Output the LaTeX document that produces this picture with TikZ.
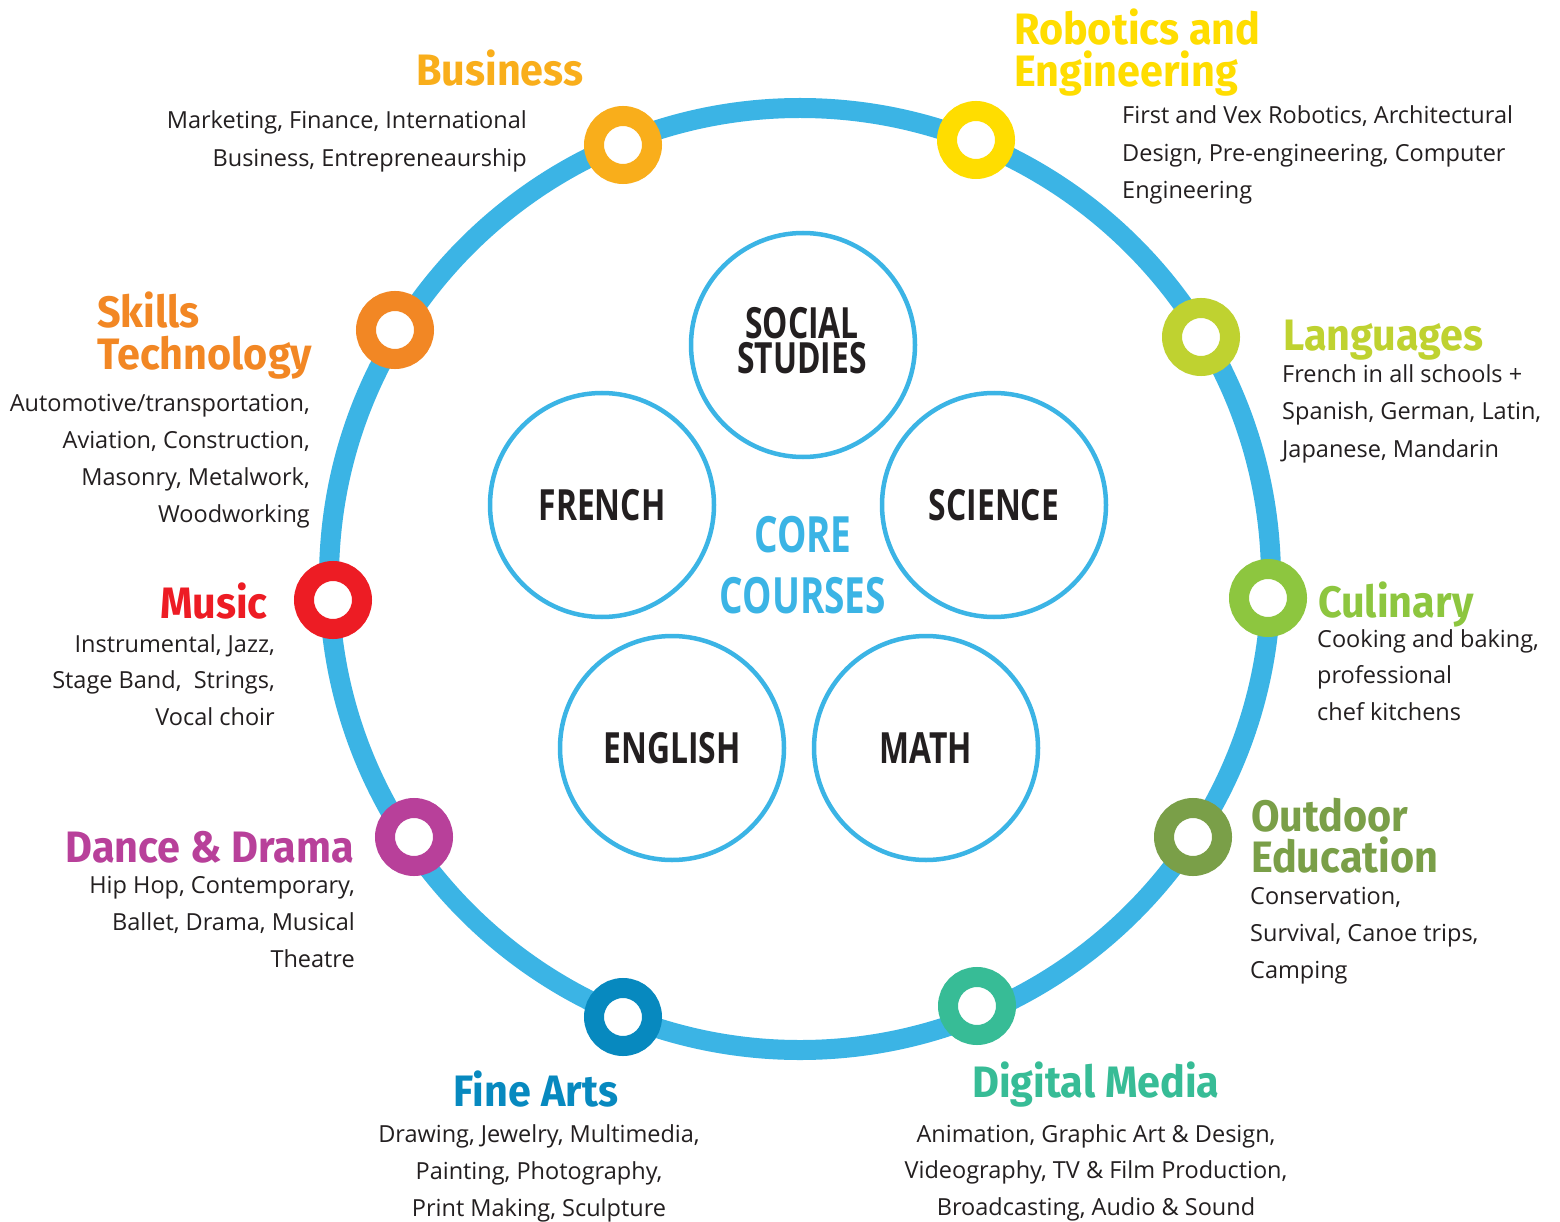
\documentclass[tikz,border=0pt]{standalone}
\usepackage{fontspec}
\setmainfont{Open Sans}
\newfontfamily\headfont[FakeStretch=0.94]{Fira Sans}
\newfontfamily\corefont[FakeStretch=0.74]{Open Sans}
\definecolor{ringblue}{HTML}{3BB4E5}
\definecolor{txt}{HTML}{231F20}
\definecolor{cbusiness}{HTML}{F9AE1B}
\definecolor{crobotics}{HTML}{FFDD00}
\definecolor{cskills}{HTML}{F28724}
\definecolor{clang}{HTML}{BFD230}
\definecolor{cmusic}{HTML}{ED1C24}
\definecolor{ccul}{HTML}{8DC63F}
\definecolor{cdance}{HTML}{B8409A}
\definecolor{coutdoor}{HTML}{7A9F48}
\definecolor{cfine}{HTML}{0789BF}
\definecolor{cdigital}{HTML}{37BC96}
\newcommand\linesR[2]{\vtop{\baselineskip=#1pt\lineskiplimit=-100pt\halign{\hfil##\cr#2\crcr}}}
\newcommand\linesL[2]{\vtop{\baselineskip=#1pt\lineskiplimit=-100pt\halign{##\hfil\cr#2\crcr}}}
\newcommand\linesC[2]{\vtop{\baselineskip=#1pt\lineskiplimit=-100pt\halign{\hfil##\hfil\cr#2\crcr}}}
\tikzset{
  body/.style={font={\fontsize{23.5}{37.5}\selectfont}, text=txt, inner sep=0pt},
  head/.style={font={\headfont\bfseries\fontsize{44}{42}\selectfont}, text=#1, inner sep=0pt},
  hub/.style={circle, draw=#1, line width=20pt, minimum size=58pt, inner sep=0pt, fill=white},
  corecircle/.style={circle, draw=ringblue, line width=4.5pt, minimum size=224pt, inner sep=0pt,
    font={\corefont\bfseries\fontsize{43}{35}\selectfont}, text=txt},
  coretext/.style={inner sep=0pt, anchor=base, font={\corefont\bfseries\fontsize{43}{35}\selectfont}, text=txt},
}
\begin{document}
\begin{tikzpicture}[x=1pt,y=-1pt]
\useasboundingbox[fill=white] (0,0) rectangle (1560,1222);
% main ring
\node[circle, draw=ringblue, line width=20pt, minimum size=942pt, inner sep=0pt] (ring) at (800,579) {};
% hubs
\node[hub=cbusiness] (hbusiness) at (623,145) {};
\node[hub=crobotics] (hrobotics) at (976,140) {};
\node[hub=cskills] (hskills) at (395,330) {};
\node[hub=clang] (hlang) at (1201,337) {};
\node[hub=cmusic] (hmusic) at (333,600) {};
\node[hub=ccul] (hcul) at (1268,598) {};
\node[hub=cdance] (hdance) at (414,837) {};
\node[hub=coutdoor] (houtdoor) at (1193,837) {};
\node[hub=cfine] (hfine) at (623,1017) {};
\node[hub=cdigital] (hdigital) at (977,1006) {};
% core circles
\node[corecircle] (social) at (803,345) {};
\node[coretext] (socialtext) at (802,339) {\linesC{35}{SOCIAL\cr STUDIES}};
\node[corecircle] (french) at (602,505) {FRENCH};
\node[corecircle] (science) at (994,505) {SCIENCE};
\node[corecircle] (english) at (672,748) {ENGLISH};
\node[corecircle] (math) at (926,748) {MATH};
\node[anchor=base, inner sep=0pt, text=ringblue, font={\corefont\bfseries\fontsize{50}{61}\selectfont}] (core) at (803,552) {\linesC{61}{CORE\cr COURSES}};
% headings
\node[head=cbusiness, anchor=base west] (tbusiness) at (416,86) {Business};
\node[head=crobotics, anchor=base west] (trobotics) at (1014,45) {\linesL{42}{Robotics and\cr Engineering}};
\node[head=cskills, anchor=base west] (tskills) at (97,327) {\linesL{42}{Skills\cr Technology}};
\node[head=clang, anchor=base west] (tlang) at (1283,351) {Languages};
\node[head=cmusic, anchor=base east] (tmusic) at (268,618) {Music};
\node[head=ccul, anchor=base west] (tcul) at (1318,617) {Culinary};
\node[head=cdance, anchor=base east] (tdance) at (354,862) {Dance \& Drama};
\node[head=coutdoor, anchor=base west] (toutdoor) at (1251,831) {\linesL{41}{Outdoor\cr Education}};
\node[head=cfine, anchor=base] (tfine) at (536,1106) {Fine Arts};
\node[head=cdigital, anchor=base] (tdigital) at (1096,1097) {Digital Media};
% bodies
\node[body, anchor=base east] (bbusiness) at (527,129) {\linesR{38}{Marketing, Finance, International\cr Business, Entrepreneaurship}};
\node[body, anchor=base west] (brobotics) at (1122,124) {\linesL{37.5}{First and Vex Robotics, Architectural\cr Design, Pre-engineering, Computer\cr Engineering}};
\node[body, anchor=base east] (bskills) at (310,411) {\linesR{37}{Automotive/transportation,\cr Aviation, Construction,\cr Masonry, Metalwork,\cr Woodworking}};
\node[body, anchor=base west] (blang) at (1282,382) {\linesL{37.5}{French in all schools +\cr Spanish, German, Latin,\cr Japanese, Mandarin}};
\node[body, anchor=base east] (bmusic) at (275,652) {\linesR{36.5}{Instrumental, Jazz,\cr Stage Band,\ \ Strings,\cr Vocal choir}};
\node[body, anchor=base west] (bcul) at (1317,647) {\linesL{36.5}{Cooking and baking,\cr professional\cr chef kitchens}};
\node[body, anchor=base east] (bdance) at (355,893) {\linesR{37}{Hip Hop, Contemporary,\cr Ballet, Drama, Musical\cr Theatre}};
\node[body, anchor=base west] (boutdoor) at (1250,904) {\linesL{37}{Conservation,\cr Survival, Canoe trips,\cr Camping}};
\node[body, anchor=base] (bfine) at (539,1142) {\linesC{37}{Drawing, Jewelry, Multimedia,\cr Painting, Photography,\cr Print Making, Sculpture}};
\node[body, anchor=base] (bdigital) at (1096,1142) {\linesC{36.5}{Animation, Graphic Art \& Design,\cr Videography, TV \& Film Production,\cr Broadcasting, Audio \& Sound}};
\end{tikzpicture}
\end{document}
